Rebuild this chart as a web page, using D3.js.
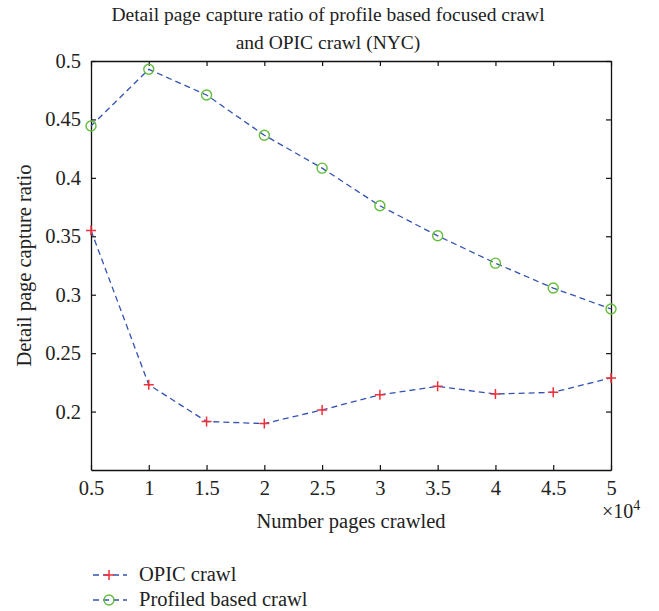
<!DOCTYPE html>
<html>
<head>
<meta charset="utf-8">
<script src="https://cdn.jsdelivr.net/npm/d3@7"></script>
<style>
  body { margin: 0; background: #fff; }
  text { font-family: "Liberation Serif", "DejaVu Serif", serif; fill: #222; }
</style>
</head>
<body>
<div id="container"></div>
<script>
// pages crawled (x 10^4)
const pages = [0.5, 1, 1.5, 2, 2.5, 3, 3.5, 4, 4.5, 5];
const opic = [0.355, 0.223, 0.1915, 0.1897, 0.2014, 0.2143, 0.2216, 0.215, 0.2165, 0.2288];
const profiled = [0.4444, 0.4929, 0.4709, 0.4365, 0.4083, 0.3761, 0.3504, 0.327, 0.3057, 0.2878];
const xTicks = [0.5, 1, 1.5, 2, 2.5, 3, 3.5, 4, 4.5, 5];
const yTicks = [0.2, 0.25, 0.3, 0.35, 0.4, 0.45, 0.5];
const legendLabels = ["OPIC crawl", "Profiled based crawl"];

const width = 659, height = 611;
const marginLeft = 91, marginRight = 48, marginTop = 61, marginBottom = 141;
const lineColor = "#3352b3", red = "#f0303c", green = "#62bd3a";

const x = d3.scaleLinear().domain([0.5, 5]).range([marginLeft, width - marginRight]);
const y = d3.scaleLinear().domain([0.15, 0.5]).range([height - marginBottom, marginTop]);

const svg = d3.create("svg")
    .attr("width", width)
    .attr("height", height)
    .attr("viewBox", [0, 0, width, height]);

// title
svg.append("text")
    .attr("x", 328).attr("y", 21)
    .attr("text-anchor", "middle")
    .attr("font-size", 19.5)
    .text("Detail page capture ratio of profile based focused crawl");
svg.append("text")
    .attr("x", 328).attr("y", 49)
    .attr("text-anchor", "middle")
    .attr("font-size", 19.5)
    .text("and OPIC crawl (NYC)");

// frame with inward ticks on all sides
svg.append("g")
    .attr("transform", `translate(0,${y(0.15)})`)
    .call(d3.axisBottom(x).tickValues(xTicks).tickSize(-5).tickPadding(10).tickSizeOuter(0)
      .tickFormat(d3.format("")));
svg.append("g")
    .attr("transform", `translate(0,${y(0.5)})`)
    .call(d3.axisTop(x).tickValues(xTicks).tickSize(-5).tickSizeOuter(0).tickFormat(""));
svg.append("g")
    .attr("transform", `translate(${x(0.5)},0)`)
    .call(d3.axisLeft(y).tickValues(yTicks).tickSize(-5).tickPadding(10).tickSizeOuter(0)
      .tickFormat(d3.format("")));
svg.append("g")
    .attr("transform", `translate(${x(5)},0)`)
    .call(d3.axisRight(y).tickValues(yTicks).tickSize(-5).tickSizeOuter(0).tickFormat(""));

svg.selectAll(".domain").attr("stroke", "#111").attr("stroke-width", 1.3);
svg.selectAll(".tick line").attr("stroke", "#111").attr("stroke-width", 1.2);
svg.selectAll(".tick text")
    .attr("font-size", 20.5)
    .attr("fill", "#222");

// multiplier
const mult = svg.append("text")
    .attr("x", 602).attr("y", 518)
    .attr("font-size", 20);
mult.append("tspan").text("\u00d710");
mult.append("tspan").attr("dy", -8).attr("font-size", 14).text("4");

// axis labels
svg.append("text")
    .attr("x", x(2.75)).attr("y", 528)
    .attr("text-anchor", "middle")
    .attr("font-size", 20.5)
    .text("Number pages crawled");
svg.append("text")
    .attr("transform", `translate(31,${(y(0.15) + y(0.5)) / 2}) rotate(-90)`)
    .attr("text-anchor", "middle")
    .attr("font-size", 20.5)
    .text("Detail page capture ratio");

// lines
const line = d3.line().x((d, i) => x(pages[i])).y(d => y(d));

[opic, profiled].forEach(series => {
  svg.append("path")
      .attr("d", line(series))
      .attr("fill", "none").attr("stroke", lineColor).attr("stroke-width", 1.3)
      .attr("stroke-dasharray", "6,4");
});

// markers
function plus(g, cx, cy) {
  g.append("path")
      .attr("d", `M${cx - 5},${cy}H${cx + 5}M${cx},${cy - 5}V${cy + 5}`)
      .attr("stroke", red).attr("stroke-width", 1.5);
}
function ring(g, cx, cy) {
  g.append("circle")
      .attr("cx", cx).attr("cy", cy).attr("r", 5)
      .attr("fill", "none").attr("stroke", green).attr("stroke-width", 1.4);
}
const marks = svg.append("g");
opic.forEach((d, i) => plus(marks, x(pages[i]), y(d)));
profiled.forEach((d, i) => ring(marks, x(pages[i]), y(d)));

// legend
const legend = svg.append("g");
const legY = [575, 600];
legendLabels.forEach((label, i) => {
  legend.append("line")
      .attr("x1", 92).attr("x2", 127)
      .attr("y1", legY[i]).attr("y2", legY[i])
      .attr("stroke", lineColor).attr("stroke-width", 1.3)
      .attr("stroke-dasharray", "6,4").attr("stroke-dashoffset", -1);
  if (i === 0) plus(legend, 109, legY[i]);
  else ring(legend, 109, legY[i]);
  legend.append("text")
      .attr("x", 139).attr("y", legY[i] + 6)
      .attr("font-size", 20.5)
      .text(label);
});

document.getElementById("container").append(svg.node());
</script>
</body>
</html>
